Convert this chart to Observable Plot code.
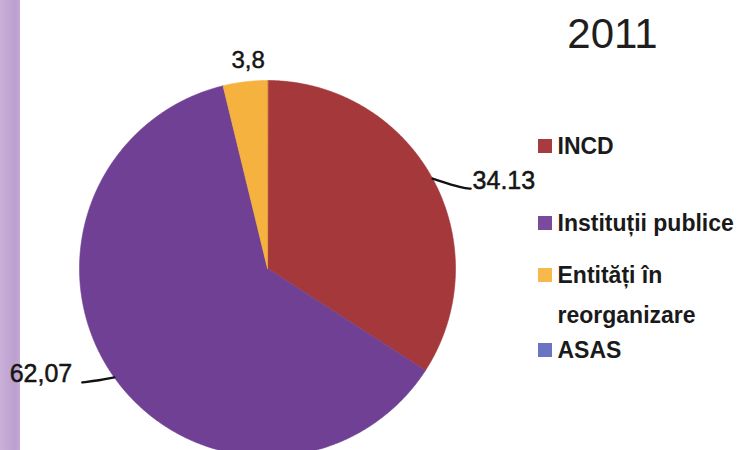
<!DOCTYPE html>
<html>
<head>
<meta charset="utf-8">
<script src="https://cdn.jsdelivr.net/npm/d3@7"></script>
<script src="https://cdn.jsdelivr.net/npm/@observablehq/plot@0.6"></script>
<style>
  html, body { margin: 0; padding: 0; background: #fff; overflow: hidden; }
  #wrap { position: relative; width: 738px; height: 450px; overflow: hidden; }
  #strip { position: absolute; left: 0; top: 0; width: 20px; height: 450px;
    background: linear-gradient(to right, #cbb0da 0%, #bb9fce 75%, #c4aad5 100%); }
  #chart { position: absolute; left: 0; top: 0; }
</style>
</head>
<body>
<div id="wrap"><div id="strip"></div><div id="chart"></div></div>
<script>
// ---- data ----
const title = "2011";
const categories = ["INCD", "Instituții publice", "Entități în reorganizare", "ASAS"];
const values = [34.13, 62.07, 3.8, 0];
const valueLabels = ["34.13", "62,07", "3,8", ""];
const legendLines = [["INCD"], ["Instituții publice"], ["Entități în", "reorganizare"], ["ASAS"]];
const colors = ["#a4383b", "#6f4093", "#f5b23e", "#6b74c2"];
const legendColors = ["#a63c3f", "#7a4a9c", "#f7b94c", "#6b74c2"];

// ---- layout ----
const W = 738, H = 450;
const cx = 267, cy = 268, R = 188;
const font = "'Liberation Sans', Arial, sans-serif";
const legendX = 538, legendTextX = 557, legendBaselines = [153, 230, 282, 357], legendLineGap = 40;
// leader offsets relative to slice edge point (elbow, end) and text offset
const leaderStyle = {
  right: {elbow: [31, 10], end: [38, 10], text: [2, 0]},
  left: {elbow: [-15, 3], end: [-32, 5], text: [-10, 0]}
};

const rows = categories.map((c, i) => ({cat: c, value: values[i], label: valueLabels[i]}));
const arcs = d3.pie().sort(null).value(d => d.value).startAngle(0).endAngle(2 * Math.PI)(rows);

const pt = (a, rr) => ({x: cx + rr * Math.sin(a), y: cy - rr * Math.cos(a)});

const slicePts = [];
for (const a of arcs) {
  if (a.endAngle - a.startAngle <= 0) continue;
  const n = Math.max(2, Math.ceil((a.endAngle - a.startAngle) / (Math.PI / 360)));
  slicePts.push({cat: a.data.cat, x: cx, y: cy});
  for (let k = 0; k <= n; k++) {
    const ang = a.startAngle + (a.endAngle - a.startAngle) * k / n;
    slicePts.push({cat: a.data.cat, ...pt(ang, R)});
  }
}

const leaderPts = [];
const labelsMid = [], labelsStart = [], labelsEnd = [];
for (const a of arcs) {
  if (!a.data.label) continue;
  const m = (a.startAngle + a.endAngle) / 2;
  const E = pt(m, R);
  const s = Math.sin(m);
  if (Math.abs(s) < 0.3) {
    labelsMid.push({text: a.data.label, x: E.x + 3, y: E.y - 14});
  } else {
    const st = s > 0 ? leaderStyle.right : leaderStyle.left;
    const el = {x: E.x + st.elbow[0], y: E.y + st.elbow[1]};
    const en = {x: E.x + st.end[0], y: E.y + st.end[1]};
    leaderPts.push({cat: a.data.cat, ...E}, {cat: a.data.cat, ...el}, {cat: a.data.cat, ...en});
    (s > 0 ? labelsStart : labelsEnd).push({text: a.data.label, x: en.x + st.text[0], y: en.y + st.text[1]});
  }
}

const legendSquares = categories.map((c, i) => ({
  cat: c, x1: legendX, x2: legendX + 14, y1: legendBaselines[i] - 14, y2: legendBaselines[i], color: legendColors[i]
}));
const legendText = [];
legendLines.forEach((lines, i) => lines.forEach((t, j) => legendText.push({text: t, x: legendTextX, y: legendBaselines[i] + j * legendLineGap})));

const labelStyle = {fill: "#151515", stroke: "#151515", strokeWidth: 0.5};

const chart = Plot.plot({
  width: W, height: H, margin: 0,
  x: {domain: [0, W], range: [0, W], axis: null},
  y: {domain: [0, H], range: [0, H], axis: null},
  color: {domain: categories, range: colors},
  style: {background: "transparent", fontFamily: font, overflow: "visible"},
  marks: [
    Plot.line(slicePts, {x: "x", y: "y", z: "cat", fill: "cat", stroke: "cat", strokeWidth: 0.6, curve: "linear-closed"}),
    Plot.line(leaderPts, {x: "x", y: "y", z: "cat", stroke: "#111", strokeWidth: 2.4, curve: "basis"}),
    Plot.text(labelsMid, {x: "x", y: "y", text: "text", textAnchor: "middle", lineAnchor: "bottom", fontSize: 24, ...labelStyle}),
    Plot.text(labelsStart, {x: "x", y: "y", text: "text", textAnchor: "start", lineAnchor: "bottom", fontSize: 25, ...labelStyle}),
    Plot.text(labelsEnd, {x: "x", y: "y", text: "text", textAnchor: "end", lineAnchor: "bottom", fontSize: 25, ...labelStyle}),
    Plot.rect(legendSquares, {x1: "x1", x2: "x2", y1: "y1", y2: "y2", fill: d => d.color}),
    Plot.text(legendText, {x: "x", y: "y", text: "text", textAnchor: "start", lineAnchor: "bottom", fontSize: 23, fontWeight: "bold", fill: "#1a1a1a"}),
    Plot.text([title], {x: 612, y: 47, text: d => d, textAnchor: "middle", lineAnchor: "bottom", fontSize: 42, fill: "#1e1e1e"})
  ]
});
document.getElementById("chart").appendChild(chart);
</script>
</body>
</html>
